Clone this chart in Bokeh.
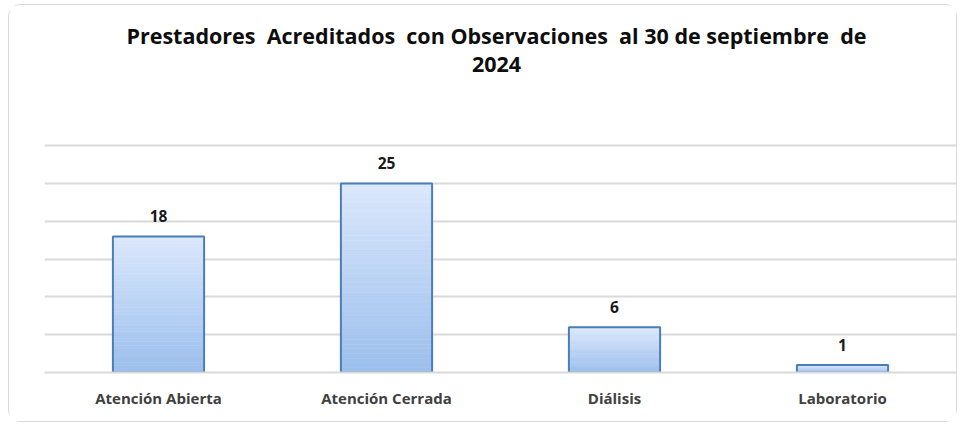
from bokeh.plotting import figure
from bokeh.models import (FactorRange, Range1d, ColumnDataSource, LabelSet, Label,
                          FixedTicker)
from bokeh.core.properties import value
from bokeh.embed import file_html
from bokeh.resources import INLINE

# ---- data ----
categories = ["Atención Abierta", "Atención Cerrada", "Diálisis", "Laboratorio"]
counts = [18, 25, 6, 1]
grid_ticks = [0, 5, 10, 15, 20, 25, 30]
title_line1 = ("Prestadores\u00a0\u00a0Acreditados\u00a0\u00a0con Observaciones"
               "\u00a0\u00a0al 30 de septiembre\u00a0\u00a0de")
title_line2 = "2024"

FONT = "Open Sans"
TOP_RGB = (219, 232, 252)
BOT_RGB = (155, 190, 236)
N_STRIPS = 40

# frame spans the whole chart area; gridlines only 0..30, title drawn inside
p = figure(x_range=FactorRange(*categories), y_range=Range1d(0, 48),
           width=949, height=418, output_backend="svg", toolbar_location=None,
           min_border_left=35, min_border_right=2, min_border_top=4,
           min_border_bottom=51)
p.styles = {"border": "1px solid #d9d9d9", "border-radius": "12px",
            "margin-left": "8px", "margin-top": "4px"}
p.outline_line_color = None
p.background_fill_color = "white"
p.border_fill_color = "white"

# gradient bars (per-bar vertical gradient built from strips of each bar)
xs, bots, tops, cols = [], [], [], []
for c, v in zip(categories, counts):
    for k in range(N_STRIPS):
        t = (k + 0.5) / N_STRIPS
        r = round(BOT_RGB[0] + (TOP_RGB[0] - BOT_RGB[0]) * t)
        g = round(BOT_RGB[1] + (TOP_RGB[1] - BOT_RGB[1]) * t)
        b = round(BOT_RGB[2] + (TOP_RGB[2] - BOT_RGB[2]) * t)
        xs.append(c)
        bots.append(v * k / N_STRIPS)
        tops.append(v * (k + 1) / N_STRIPS)
        cols.append("#%02x%02x%02x" % (r, g, b))
strip_src = ColumnDataSource(dict(x=xs, bottom=bots, top=tops, color=cols))
p.vbar(x="x", bottom="bottom", top="top", width=0.4, source=strip_src,
       fill_color="color", line_color="color", line_width=0.6)

src = ColumnDataSource(dict(x=categories, top=counts, lbl=[str(v) for v in counts]))
p.vbar(x="x", top="top", width=0.4, source=src, fill_alpha=0,
       line_color="#4a7ebb", line_width=2)

labels = LabelSet(x="x", y="top", text="lbl", source=src, y_offset=14,
                  text_align="center", text_baseline="bottom",
                  text_font=value(FONT), text_font_style="bold",
                  text_font_size="15.5px", text_color="#1a1a1a")
p.add_layout(labels)

# grid & axes
p.xgrid.grid_line_color = None
p.ygrid.ticker = FixedTicker(ticks=grid_ticks)
p.ygrid.grid_line_color = "#d9d9d9"
p.ygrid.grid_line_width = 2
p.yaxis.visible = False
p.xaxis.axis_line_color = "#d9d9d9"
p.xaxis.axis_line_width = 2
p.xaxis.major_tick_line_color = None
p.xaxis.minor_tick_line_color = None
p.xaxis.major_tick_out = 0
p.xaxis.major_label_standoff = 15
p.xaxis.major_label_text_font = FONT
p.xaxis.major_label_text_font_style = "bold"
p.xaxis.major_label_text_font_size = "15px"
p.xaxis.major_label_text_color = "#404040"

# title (two lines)
for txt, yv in ((title_line1, 44.5), (title_line2, 40.7)):
    p.add_layout(Label(x=2.0, y=yv, text=txt, text_align="center",
                       text_baseline="middle", x_offset=-4,
                       text_font=FONT, text_font_style="bold",
                       text_font_size="21.5px", text_color="#0d0d0d"))

open("out.html", "w").write(file_html(p, INLINE))
